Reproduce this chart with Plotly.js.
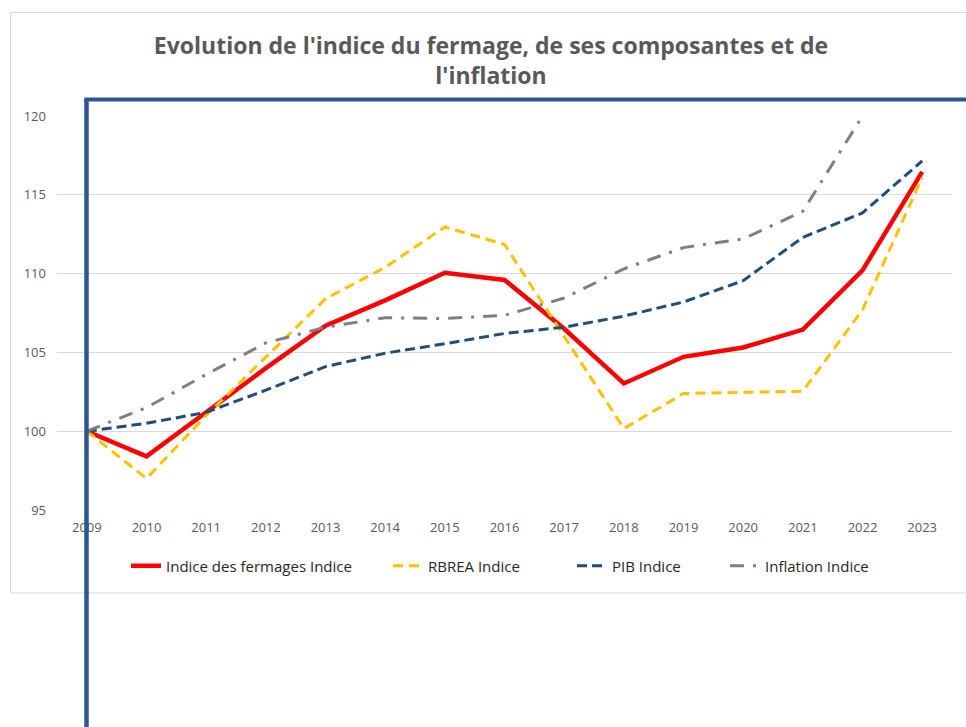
<!DOCTYPE html>
<html>
<head>
<meta charset="utf-8">
<script src="https://cdn.plot.ly/plotly-3.0.1.min.js"></script>
<style>html,body{margin:0;padding:0;background:#fff;}#chart{width:966px;height:727px;}</style>
</head>
<body>
<div id="chart"></div>
<script>
const years = ["2009","2010","2011","2012","2013","2014","2015","2016","2017","2018","2019","2020","2021","2022","2023"];
const fermages = [100, 98.4, 101.2, 104.0, 106.7, 108.3, 110.05, 109.6, 106.5, 103.03, 104.72, 105.31, 106.45, 110.2, 116.45];
const rbrea = [100, 97.0, 101.0, 104.7, 108.4, 110.4, 112.96, 111.85, 106.0, 100.17, 102.39, 102.47, 102.54, 107.7, 116.1];
const pib = [100, 100.5, 101.2, 102.6, 104.1, 104.95, 105.55, 106.2, 106.6, 107.3, 108.2, 109.55, 112.3, 113.85, 117.15];
const inflation = [100, 101.5, 103.6, 105.6, 106.6, 107.2, 107.15, 107.35, 108.45, 110.3, 111.65, 112.2, 113.95, 120.0, 125.7];
const seriesNames = ["Indice des fermages Indice", "RBREA Indice", "PIB Indice", "Inflation Indice"];
const titleText = "Evolution de l'indice du fermage, de ses composantes et de<br>l'inflation";
const yTicks = [95, 100, 105, 110, 115, 120];

const W = 966, H = 727;
const L = 57, R = 952, T = 116, B = 510;
const px = x => (x - L) / (R - L);
const py = y => (B - y) / (B - T);

const legFont = {family: "Open Sans, Liberation Sans, sans-serif", size: 15, color: "#262626"};
function leg(xpix) {
  return {orientation: "h", xref: "container", yref: "container", x: xpix / W, y: 1 - 566 / H,
    xanchor: "left", yanchor: "middle", font: legFont, bgcolor: "rgba(0,0,0,0)", itemwidth: 30};
}

const traces = [
  {x: years, y: fermages, name: seriesNames[0], type: "scatter", mode: "lines",
   line: {color: "#FF0000", width: 4.5}, legend: "legend"},
  {x: years, y: rbrea, name: seriesNames[1], type: "scatter", mode: "lines",
   line: {color: "#FFC000", width: 3, dash: "10px,6px"}, legend: "legend2"},
  {x: years, y: pib, name: seriesNames[2], type: "scatter", mode: "lines",
   line: {color: "#1F4E79", width: 3, dash: "10px,5px"}, legend: "legend3"},
  {x: years, y: inflation, name: seriesNames[3], type: "scatter", mode: "lines",
   line: {color: "#7F7F7F", width: 3, dash: "14px,9px,3px,9px"}, legend: "legend4"}
];

const layout = {
  width: W, height: H,
  margin: {l: L, r: W - R, t: T, b: H - B},
  paper_bgcolor: "#ffffff", plot_bgcolor: "#ffffff",
  showlegend: true,
  title: {text: titleText, xref: "container", yref: "container", x: 491 / W, xanchor: "center",
    y: 1 - 54 / H, yanchor: "middle",
    font: {family: "Open Sans, Liberation Sans, sans-serif", size: 23, color: "#595959", weight: "bold"}},
  xaxis: {type: "category", range: [-0.5, 14.5], showgrid: false, zeroline: false, showline: false,
    ticks: "", ticklabelstandoff: 8,
    tickfont: {family: "Open Sans, Liberation Sans, sans-serif", size: 13, color: "#595959"}},
  yaxis: {range: [95, 120], tickvals: yTicks, ticktext: yTicks.map(String), showgrid: true, gridcolor: "#D9D9D9", gridwidth: 1,
    zeroline: false, showline: false, ticks: "", ticklabelstandoff: 10,
    tickfont: {family: "Open Sans, Liberation Sans, sans-serif", size: 13, color: "#595959"}},
  legend: leg(126),
  legend2: leg(388),
  legend3: leg(572),
  legend4: leg(725),
  shapes: [
    {type: "rect", xref: "paper", yref: "paper", x0: px(10.5), x1: px(975), y0: py(593), y1: py(12.5),
     line: {color: "#D9D9D9", width: 1}, layer: "below"},
    {type: "line", xref: "paper", yref: "paper", x0: px(86.5), x1: px(86.5), y0: py(99.5), y1: py(730),
     line: {color: "#2F5597", width: 4.5}, layer: "above"},
    {type: "line", xref: "paper", yref: "paper", x0: px(84.3), x1: px(975), y0: py(99.5), y1: py(99.5),
     line: {color: "#2F5597", width: 4}, layer: "above"}
  ]
};

Plotly.newPlot("chart", traces, layout, {displayModeBar: false, staticPlot: true});
</script>
</body>
</html>
